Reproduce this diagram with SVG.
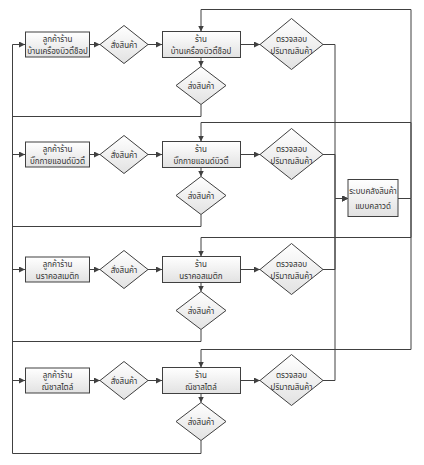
<svg xmlns="http://www.w3.org/2000/svg" width="424" height="465" viewBox="0 0 424 465">
<defs>
<linearGradient id="g" x1="0" y1="0" x2="0" y2="1">
<stop offset="0" stop-color="#ffffff"/>
<stop offset="1" stop-color="#e2e2e2"/>
</linearGradient>
<marker id="a" markerUnits="userSpaceOnUse" markerWidth="7" markerHeight="6" refX="6" refY="3" orient="auto">
<path d="M0,0 L6,3 L0,6 z" fill="#404040"/>
</marker>
</defs>
<style>
.n{fill:url(#g);stroke:#404040;stroke-width:1}
.t{font-family:"Liberation Sans","Noto Sans Thai","Noto Sans",sans-serif;font-size:8px;fill:#333;text-anchor:middle}
.c{fill:none;stroke:#404040;stroke-width:1;marker-end:url(#a)}
.p{fill:none;stroke:#404040;stroke-width:1}
</style>
<rect width="424" height="465" fill="#ffffff"/>
<g id="connectors">
<!-- row 1 -->
<path class="c" d="M89.5,44.5 H100"/>
<path class="c" d="M148,44.5 H162"/>
<path class="c" d="M201,57.5 V66.5"/>
<path class="c" d="M240.5,44.5 H260"/>
<path class="c" d="M201,104.5 V116.5 H12.5 V154.5 H25"/>
<path class="c" d="M323,44.5 H335 V198.5 H348"/>
<path class="c" d="M398,198.5 H411 V9.5 H201 V31.5"/>
<!-- row 2 -->
<path class="c" d="M89.5,154.5 H100"/>
<path class="c" d="M148,154.5 H162"/>
<path class="c" d="M201,167.5 V176.5"/>
<path class="c" d="M240.5,154.5 H260"/>
<path class="c" d="M201,214.5 V226.5 H12.5 V269.5 H25"/>
<path class="c" d="M323,154.5 H335 V198.5 H348"/>
<path class="c" d="M398,198.5 H411 V122.5 H201 V141.5"/>
<!-- row 3 -->
<path class="c" d="M89.5,269.5 H100"/>
<path class="c" d="M148,269.5 H162"/>
<path class="c" d="M201,282.5 V291.5"/>
<path class="c" d="M240.5,269.5 H260"/>
<path class="c" d="M201,329.5 V341.5 H12.5 V380.5 H25"/>
<path class="c" d="M323,269.5 H335 V198.5 H348"/>
<path class="c" d="M398,198.5 H411 V237.5 H201 V256.5"/>
<!-- row 4 -->
<path class="c" d="M89.5,380.5 H100"/>
<path class="c" d="M148,380.5 H162"/>
<path class="c" d="M201,393.5 V402.5"/>
<path class="c" d="M240.5,380.5 H260"/>
<path class="c" d="M201,440.5 V453.5 H12.5 V44.5 H25"/>
<path class="c" d="M323,380.5 H335 V198.5 H348"/>
<path class="c" d="M398,198.5 H411 V349.5 H201 V367.5"/>
</g>
<!-- Row 1 -->
<g id="cust1"><rect class="n" x="25.5" y="32" width="64" height="25"/><text class="t" x="57.5" y="41.5">ลูกค้าร้าน</text><text class="t" x="57.5" y="54">บ้านเครื่องบิวตี้ช็อป</text></g>
<g id="order1"><polygon class="n" points="100,44.5 124,25.5 148,44.5 124,63.5"/><text class="t" x="124" y="47.5">สั่งสินค้า</text></g>
<g id="store1"><rect class="n" x="162.5" y="31.5" width="78" height="26"/><text class="t" x="201" y="41.5">ร้าน</text><text class="t" x="201" y="54">บ้านเครื่องบิวตี้ช็อป</text></g>
<g id="ship1"><polygon class="n" points="176,85.5 201,66.5 226,85.5 201,104.5"/><text class="t" x="201" y="88.5">ส่งสินค้า</text></g>
<g id="check1"><polygon class="n" points="260,44.5 291.5,18.5 323,44.5 291.5,69.5"/><text class="t" x="291.5" y="41.5">ตรวจสอบ</text><text class="t" x="291.5" y="53.5">ปริมาณสินค้า</text></g>
<!-- Row 2 -->
<g id="cust2"><rect class="n" x="25.5" y="142" width="64" height="25"/><text class="t" x="57.5" y="151.5">ลูกค้าร้าน</text><text class="t" x="57.5" y="164">บิ๊กกายแอนด์บิวตี้</text></g>
<g id="order2"><polygon class="n" points="100,154.5 124,135.5 148,154.5 124,173.5"/><text class="t" x="124" y="157.5">สั่งสินค้า</text></g>
<g id="store2"><rect class="n" x="162.5" y="141.5" width="78" height="26"/><text class="t" x="201" y="151.5">ร้าน</text><text class="t" x="201" y="164">บิ๊กกายแอนด์บิวตี้</text></g>
<g id="ship2"><polygon class="n" points="176,195.5 201,176.5 226,195.5 201,214.5"/><text class="t" x="201" y="198.5">ส่งสินค้า</text></g>
<g id="check2"><polygon class="n" points="260,154.5 291.5,128.5 323,154.5 291.5,179.5"/><text class="t" x="291.5" y="151.5">ตรวจสอบ</text><text class="t" x="291.5" y="163.5">ปริมาณสินค้า</text></g>
<!-- Row 3 -->
<g id="cust3"><rect class="n" x="25.5" y="257" width="64" height="25"/><text class="t" x="57.5" y="266.5">ลูกค้าร้าน</text><text class="t" x="57.5" y="279">นราคอสเมติก</text></g>
<g id="order3"><polygon class="n" points="100,269.5 124,250.5 148,269.5 124,288.5"/><text class="t" x="124" y="272.5">สั่งสินค้า</text></g>
<g id="store3"><rect class="n" x="162.5" y="256.5" width="78" height="26"/><text class="t" x="201" y="266.5">ร้าน</text><text class="t" x="201" y="279">นราคอสเมติก</text></g>
<g id="ship3"><polygon class="n" points="176,310.5 201,291.5 226,310.5 201,329.5"/><text class="t" x="201" y="313.5">ส่งสินค้า</text></g>
<g id="check3"><polygon class="n" points="260,269.5 291.5,243.5 323,269.5 291.5,294.5"/><text class="t" x="291.5" y="266.5">ตรวจสอบ</text><text class="t" x="291.5" y="278.5">ปริมาณสินค้า</text></g>
<!-- Row 4 -->
<g id="cust4"><rect class="n" x="25.5" y="368" width="64" height="25"/><text class="t" x="57.5" y="377.5">ลูกค้าร้าน</text><text class="t" x="57.5" y="390">ณิชาสไตล์</text></g>
<g id="order4"><polygon class="n" points="100,380.5 124,361.5 148,380.5 124,399.5"/><text class="t" x="124" y="383.5">สั่งสินค้า</text></g>
<g id="store4"><rect class="n" x="162.5" y="367.5" width="78" height="26"/><text class="t" x="201" y="377.5">ร้าน</text><text class="t" x="201" y="390">ณิชาสไตล์</text></g>
<g id="ship4"><polygon class="n" points="176,421.5 201,402.5 226,421.5 201,440.5"/><text class="t" x="201" y="424.5">ส่งสินค้า</text></g>
<g id="check4"><polygon class="n" points="260,380.5 291.5,354.5 323,380.5 291.5,405.5"/><text class="t" x="291.5" y="377.5">ตรวจสอบ</text><text class="t" x="291.5" y="389.5">ปริมาณสินค้า</text></g>
<!-- Warehouse -->
<g id="warehouse"><rect class="n" x="348" y="179.5" width="50" height="37"/><text class="t" x="373" y="194">ระบบคลังสินค้า</text><text class="t" x="373" y="208.5">แบบคลาวด์</text></g>
</svg>
